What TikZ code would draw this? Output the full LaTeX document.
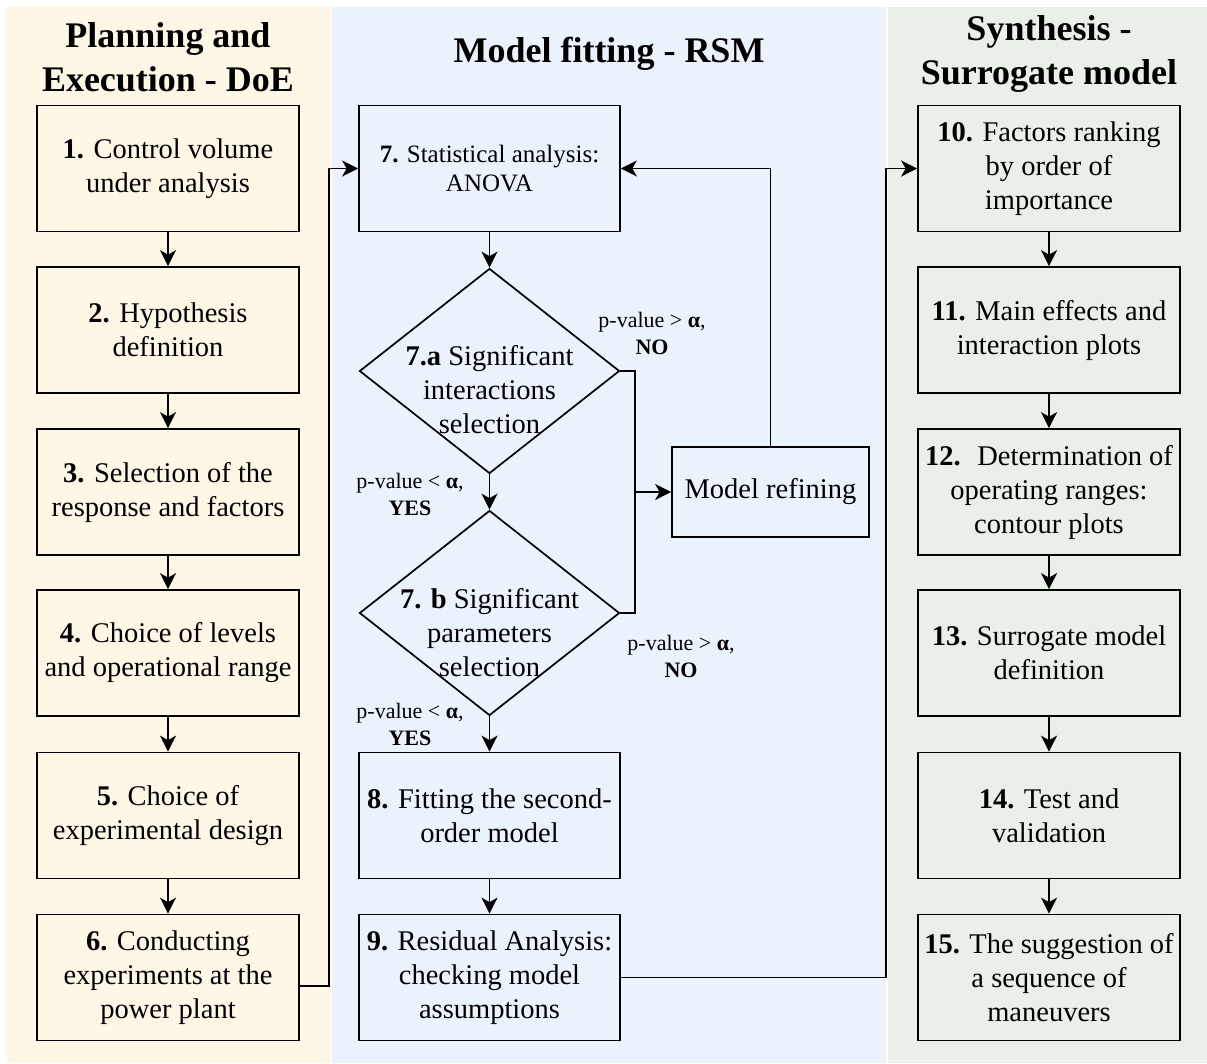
\documentclass[tikz,border=0pt]{standalone}
\usepackage{fontspec}
\setmainfont{Liberation Serif}
\usetikzlibrary{shapes.geometric,arrows.meta}

\definecolor{doebg}{HTML}{FFF7E6}
\definecolor{rsmbg}{HTML}{EAF2FC}
\definecolor{surbg}{HTML}{E8F0E7}

\newcommand\stepfont{\fontsize{28.5}{34}\selectfont}
\newcommand\anovafont{\fontsize{25}{29}\selectfont}
\newcommand\lanefont{\fontsize{36}{44}\selectfont\bfseries}
\newcommand\pvalfont{\fontsize{22}{27}\selectfont}

\begin{document}
\begin{tikzpicture}[x=1pt,y=-1pt,
  stepbox/.style={draw, line width=1.7pt, minimum width=262pt, minimum height=126pt,
    inner sep=0pt, align=center, font=\stepfont},
  decision/.style={diamond, draw, line width=1.7pt, minimum width=260pt,
    minimum height=205pt, inner sep=0pt},
  dtext/.style={align=center, font=\stepfont, inner sep=0pt},
  lane/.style={align=center, font=\lanefont, inner sep=0pt},
  pval/.style={align=center, font=\pvalfont, inner sep=0pt},
  conn/.style={line width=1.7pt},
  arr/.style={conn, -{Stealth[length=16pt,width=16pt,inset=4.5pt]}}
]
\useasboundingbox (0,0) rectangle (1207,1063);
\fill[white] (0,0) rectangle (1207,1063);

% swimlane backgrounds
\fill[doebg] (6,7) rectangle (330.5,1063);
\fill[rsmbg] (332,7) rectangle (886,1063);
\fill[surbg] (888,7) rectangle (1207,1063);

% lane titles
\node[lane] (tdoe) at (168,57) {Planning and\\Execution - DoE};
\node[lane] (trsm) at (609,54) {Model fitting - RSM};
\node[lane] (tsur) at (1049,54) {Synthesis -\\Surrogate model};

% Planning and Execution - DoE
\node[stepbox, fill=doebg] (b1) at (168,168.5) {\textbf{1.} Control volume\\under analysis};
\node[stepbox, fill=doebg] (b2) at (168,330) {\textbf{2.} Hypothesis\\definition};
\node[stepbox, fill=doebg] (b3) at (168,492) {\textbf{3.} Selection of the\\response and factors};
\node[stepbox, fill=doebg] (b4) at (168,653) {\textbf{4.} Choice of levels\\and operational range};
\node[stepbox, fill=doebg] (b5) at (168,815.5) {\textbf{5.} Choice of\\experimental design};
\node[stepbox, fill=doebg] (b6) at (168,977.5) {\textbf{6.} Conducting\\experiments at the\\power plant};

% Model fitting - RSM
\node[stepbox, fill=rsmbg, minimum width=261pt, font=\anovafont] (b7) at (489.5,168.5) {\textbf{7.} Statistical analysis:\\ANOVA};
\node[decision, fill=rsmbg] (d7a) at (489.5,371) {};
\node[dtext] (t7a) at (489.5,390) {\textbf{7.a} Significant\\interactions\\selection};
\node[decision, fill=rsmbg] (d7b) at (489.5,613) {};
\node[dtext] (t7b) at (489.5,633) {\textbf{7. b} Significant\\parameters\\selection};
\node[stepbox, fill=rsmbg, minimum width=261pt] (b8) at (489.5,815.5) {\textbf{8.} Fitting the second-\\order model};
\node[stepbox, fill=rsmbg, minimum width=261pt] (b9) at (489.5,977.5) {\textbf{9.} Residual Analysis:\\checking model\\assumptions};
\node[stepbox, fill=rsmbg, minimum width=197pt, minimum height=90pt] (mr) at (770.5,492) {Model refining};

% Synthesis - Surrogate model
\node[stepbox, fill=surbg] (b10) at (1049,168.5) {\textbf{10.} Factors ranking\\by order of\\importance};
\node[stepbox, fill=surbg] (b11) at (1049,330) {\textbf{11.} Main effects and\\interaction plots};
\node[stepbox, fill=surbg] (b12) at (1049,492) {\textbf{12.}~ Determination of\\operating ranges:\\contour plots};
\node[stepbox, fill=surbg] (b13) at (1049,653) {\textbf{13.} Surrogate model\\definition};
\node[stepbox, fill=surbg] (b14) at (1049,815.5) {\textbf{14.} Test and\\validation};
\node[stepbox, fill=surbg] (b15) at (1049,977.5) {\textbf{15.} The suggestion of\\a sequence of\\maneuvers};

% decision labels
\node[pval] (no7a) at (652,333) {p-value > \textbf{α},\\\textbf{NO}};
\node[pval] (yes7a) at (410,494) {p-value < \textbf{α},\\\textbf{YES}};
\node[pval] (no7b) at (681,656) {p-value > \textbf{α},\\\textbf{NO}};
\node[pval] (yes7b) at (410,724) {p-value < \textbf{α},\\\textbf{YES}};

% flow within the lanes
\foreach \a/\b in {b1/b2,b2/b3,b3/b4,b4/b5,b5/b6,
                   b7/d7a,d7a/d7b,d7b/b8,b8/b9,
                   b10/b11,b11/b12,b12/b13,b13/b14,b14/b15}
  \draw[arr] (\a) -- (\b);

% rejected terms go to model refining, then back to ANOVA
\coordinate (jr) at (635,492);
\draw[conn] (d7a.east) -| (jr);
\draw[conn] (d7b.east) -| (jr);
\draw[arr] (jr) -- (mr.west);
\draw[arr] (mr.north) |- (b7.east);

% links between the lanes
\draw[arr] ([yshift=-8.5pt]b6.east) -| ([xshift=-29pt]b7.west) -- (b7.west);
\draw[arr] (b9.east) -| ([xshift=-31pt]b10.west) -- (b10.west);
\end{tikzpicture}
\end{document}
